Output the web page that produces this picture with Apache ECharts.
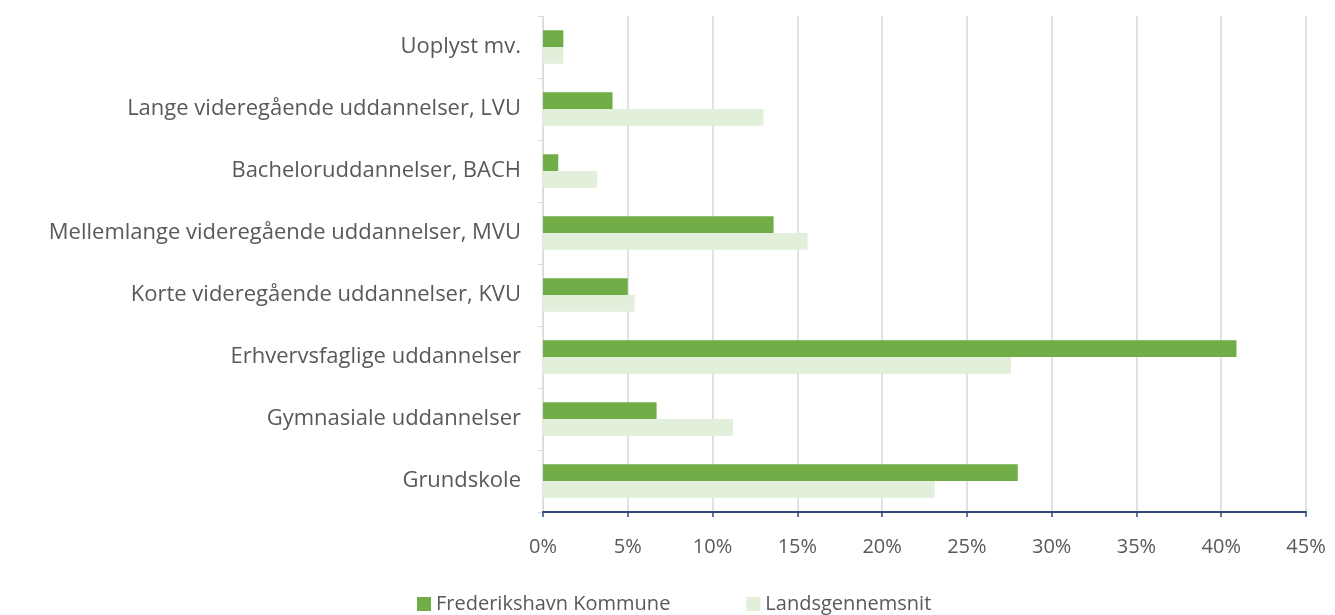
<!DOCTYPE html>
<html>
<head>
<meta charset="utf-8">
<script src="https://cdn.jsdelivr.net/npm/echarts@6/dist/echarts.min.js"></script>
<style>html,body{margin:0;padding:0;background:#fff}#c{width:1335px;height:615px}</style>
</head>
<body>
<div id="c"></div>
<script>
const categories = [
  'Uoplyst mv.',
  'Lange videregående uddannelser, LVU',
  'Bacheloruddannelser, BACH',
  'Mellemlange videregående uddannelser, MVU',
  'Korte videregående uddannelser, KVU',
  'Erhvervsfaglige uddannelser',
  'Gymnasiale uddannelser',
  'Grundskole'
];
const frederikshavn = [1.2, 4.1, 0.9, 13.6, 5.0, 40.9, 6.7, 28.0];
const landsgennemsnit = [1.2, 13.0, 3.2, 15.6, 5.4, 27.6, 11.2, 23.1];
const xTicks = [0, 5, 10, 15, 20, 25, 30, 35, 40, 45];

const font = 'Open Sans';
const chart = echarts.init(document.getElementById('c'));
chart.setOption({
  animation: false,
  grid: { left: 543, right: 29, top: 16, bottom: 103, containLabel: false },
  legend: {
    top: 593,
    left: 417,
    padding: 0,
    itemWidth: 14, itemHeight: 14, itemGap: 76,
    icon: 'rect',
    textStyle: { fontFamily: font, fontSize: 20, color: '#595959', lineHeight: 22 },
    data: ['Frederikshavn Kommune', 'Landsgennemsnit']
  },
  xAxis: {
    type: 'value',
    min: xTicks[0], max: xTicks[xTicks.length - 1], interval: 5,
    axisLine: { show: true, lineStyle: { color: '#2F4B7C', width: 2 } },
    axisTick: { show: true, length: 5, lineStyle: { color: '#2F4B7C', width: 1.5 } },
    splitLine: { show: true, lineStyle: { color: '#D9D9D9', width: 1.5 } },
    axisLabel: { formatter: v => v + '%', fontFamily: font, fontSize: 20, color: '#595959', margin: 25 }
  },
  yAxis: {
    type: 'category',
    inverse: true,
    data: categories,
    axisLine: { show: true, lineStyle: { color: '#D9D9D9', width: 1 } },
    axisTick: { show: true, length: 5, inside: false, lineStyle: { color: '#D9D9D9' } },
    axisLabel: { fontFamily: font, fontSize: 22, color: '#595959', margin: 22 }
  },
  series: [
    {
      name: 'Frederikshavn Kommune', type: 'bar', data: frederikshavn,
      itemStyle: { color: '#70AD47' },
      barGap: '0%', barCategoryGap: '46%'
    },
    {
      name: 'Landsgennemsnit', type: 'bar', data: landsgennemsnit,
      itemStyle: { color: '#E2EFDA' },
      barGap: '0%', barCategoryGap: '46%'
    }
  ]
});
</script>
</body>
</html>
